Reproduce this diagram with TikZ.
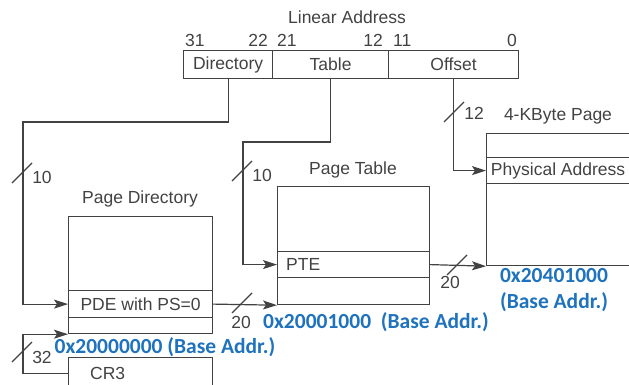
\documentclass[tikz,border=0pt]{standalone}
\usepackage{fontspec}
\setmainfont{Liberation Sans}
\newfontfamily\basefont{Carlito}
\usetikzlibrary{arrows.meta,calc}
\definecolor{inkgray}{RGB}{66,66,66}
\definecolor{addrblue}{RGB}{30,114,190}

\begin{document}
\begin{tikzpicture}[x=1pt,y=-1pt,text=inkgray,
  font=\fontsize{17.5}{20}\selectfont,
  txt/.style={inner sep=0pt},
  cell/.style={draw=inkgray,line width=1.2pt,anchor=north west,inner sep=0pt},
  link/.style={draw=inkgray,line width=1.2pt,-{Stealth[length=14pt,width=9pt,inset=3pt]}},
  tick/.style={draw=inkgray,line width=1.2pt},
  base/.style={inner sep=0pt,text=addrblue,font=\basefont\bfseries\fontsize{21.5}{26}\selectfont}]
\clip (0,0) rectangle (629,385);

% linear address
\node[txt] (lin) at (347,17) {Linear Address};
\node[txt,anchor=west] (b31) at (185,40) {31};
\node[txt,anchor=east] (b22) at (268,40) {22};
\node[txt,anchor=west] (b21) at (277,40) {21};
\node[txt,anchor=east] (b12) at (383,40) {12};
\node[txt,anchor=west] (b11) at (393,40) {11};
\node[txt,anchor=east] (b0) at (517,40) {0};
\node[cell,minimum width=89pt,minimum height=28pt] (dir) at (183,50) {Directory};
\node[cell,minimum width=116pt,minimum height=28pt] (tbl) at (272,50) {Table};
\node[cell,minimum width=130pt,minimum height=28pt] (off) at (388,50) {Offset};

% page directory
\node[txt] (pdlbl) at (140,199) {Page Directory};
\node[cell,minimum width=144pt,minimum height=74pt] (pdtop) at (68,216) {};
\node[cell,minimum width=144pt,minimum height=27pt] (pde) at (68,290) {PDE with PS=0};
\node[cell,minimum width=144pt,minimum height=16pt] (pdbot) at (68,317) {};

% page table
\node[txt] (ptlbl) at (353,170) {Page Table};
\node[cell,minimum width=152pt,minimum height=65pt] (pttop) at (277,186) {};
\node[cell,minimum width=152pt,minimum height=26pt] (pte) at (277,251) {};
\node[txt,anchor=west] (ptetxt) at ($(pte.west)+(9,0)$) {PTE};
\node[cell,minimum width=152pt,minimum height=27pt] (ptbot) at (277,277) {};

% 4-KByte page
\node[txt] (pglbl) at (558,116) {4-KByte Page};
\node[cell,minimum width=143pt,minimum height=24pt] (pgtop) at (486,133) {};
\node[cell,minimum width=143pt,minimum height=26pt] (phys) at (486,157) {Physical Address};
\node[cell,minimum width=143pt,minimum height=82pt] (pgbot) at (486,183) {};

% CR3
\node[cell,minimum width=144pt,minimum height=32pt] (cr3) at (68,357) {};
\node[txt,anchor=west] (cr3txt) at ($(cr3.west)+(22,0)$) {CR3};

% connectors
\coordinate (dirbend) at (23,122);
\coordinate (tblbend) at (243,142);
\draw[link] (dir.south) |- (dirbend) |- (pde.west);
\draw[link] (tbl.south) |- (tblbend) |- (pte.west);
\draw[link] (off.south) |- (phys.west);
\draw[link] (pde.east) -- (ptbot.south west);
\draw[link] (pte.east) -- (pgbot.south west);
\draw[link] (cr3.west) -- ++(-45,0) |- (pdbot.south west);

% bus widths
\foreach \x/\y in {22/173,242/171,454/112,242/303,457/265,22/352}
  \draw[tick] (\x-10,\y+10) -- (\x+10,\y-10);
\node[txt] (w10a) at (42,177) {10};
\node[txt] (w10b) at (262,175) {10};
\node[txt] (w12) at (474,113) {12};
\node[txt] (w20a) at (241,322) {20};
\node[txt] (w20b) at (450,282) {20};
\node[txt] (w32) at (42,357) {32};

% base addresses
\node[base] (pdbase) at (165,347) {0x20000000 (Base Addr.)};
\node[base] (ptbase) at (376,322) {0x20001000\ \ (Base Addr.)};
\node[base,align=center] (pgbase) at (554,290) {0x20401000\\(Base Addr.)};
\end{tikzpicture}
\end{document}
